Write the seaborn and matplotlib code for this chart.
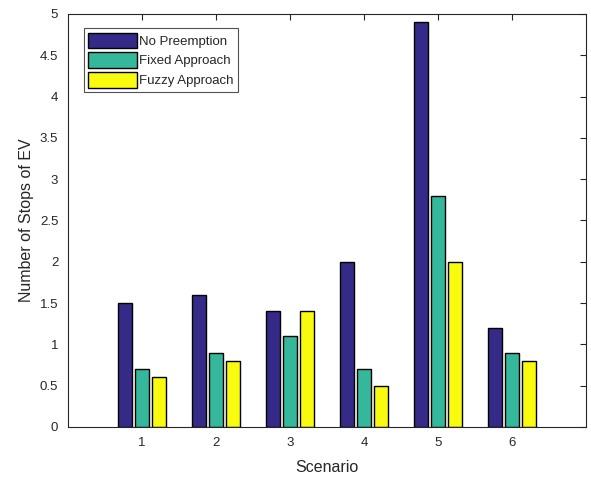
import numpy as np
import pandas as pd
import matplotlib
matplotlib.use("Agg")
import matplotlib.pyplot as plt
import seaborn as sns

scenarios = ["1", "2", "3", "4", "5", "6"]
series_names = ["No Preemption", "Fixed Approach", "Fuzzy Approach"]
no_preemption = [1.5, 1.6, 1.4, 2.0, 4.9, 1.2]
fixed_approach = [0.7, 0.9, 1.1, 0.7, 2.8, 0.9]
fuzzy_approach = [0.6, 0.8, 1.4, 0.5, 2.0, 0.8]
colors = ["#352a87", "#35b79b", "#f9fb0e"]
yticks = [0, 0.5, 1, 1.5, 2, 2.5, 3, 3.5, 4, 4.5, 5]

df = pd.DataFrame({
    "Scenario": scenarios * 3,
    "Value": no_preemption + fixed_approach + fuzzy_approach,
    "Series": [series_names[0]] * 6 + [series_names[1]] * 6 + [series_names[2]] * 6,
})

sns.set_style("white")
plt.rcParams["font.family"] = ["Liberation Sans", "DejaVu Sans"]

fig = plt.figure(figsize=(5.91, 4.79), dpi=100)
ax = fig.add_axes([0.115, 0.1086, 0.8765, 0.8622])

sns.barplot(data=df, x="Scenario", y="Value", hue="Series", order=scenarios,
            hue_order=series_names, palette=colors, saturation=1, width=0.69, gap=0.22,
            edgecolor="black", linewidth=1.0, errorbar=None, ax=ax)

ax.set_xlim(-1, 6)
ax.set_ylim(0, 5)
ax.set_yticks(yticks)
ax.set_yticklabels(["0", "0.5", "1", "1.5", "2", "2.5", "3", "3.5", "4", "4.5", "5"])
ax.set_xlabel("Scenario", fontsize=11.5, color="#262626", labelpad=8)
ax.set_ylabel("Number of Stops of EV", fontsize=11.5, color="#262626", labelpad=4)
ax.tick_params(axis="both", direction="in", length=4, width=0.8, colors="#262626",
               labelsize=9.5, top=True, right=True, labelcolor="#262626", pad=7)
for s in ax.spines.values():
    s.set_visible(True)
    s.set_color("#262626")
    s.set_linewidth(0.8)

leg = ax.legend(loc="upper left", bbox_to_anchor=(0.03, 0.966), fontsize=9.5,
                frameon=True, fancybox=False, edgecolor="#262626",
                handlelength=3.7, handleheight=1.45, handletextpad=0.15,
                borderpad=0.35, labelspacing=0.3, borderaxespad=0)
leg.get_frame().set_linewidth(0.8)

fig.savefig("out.png", dpi=100)
